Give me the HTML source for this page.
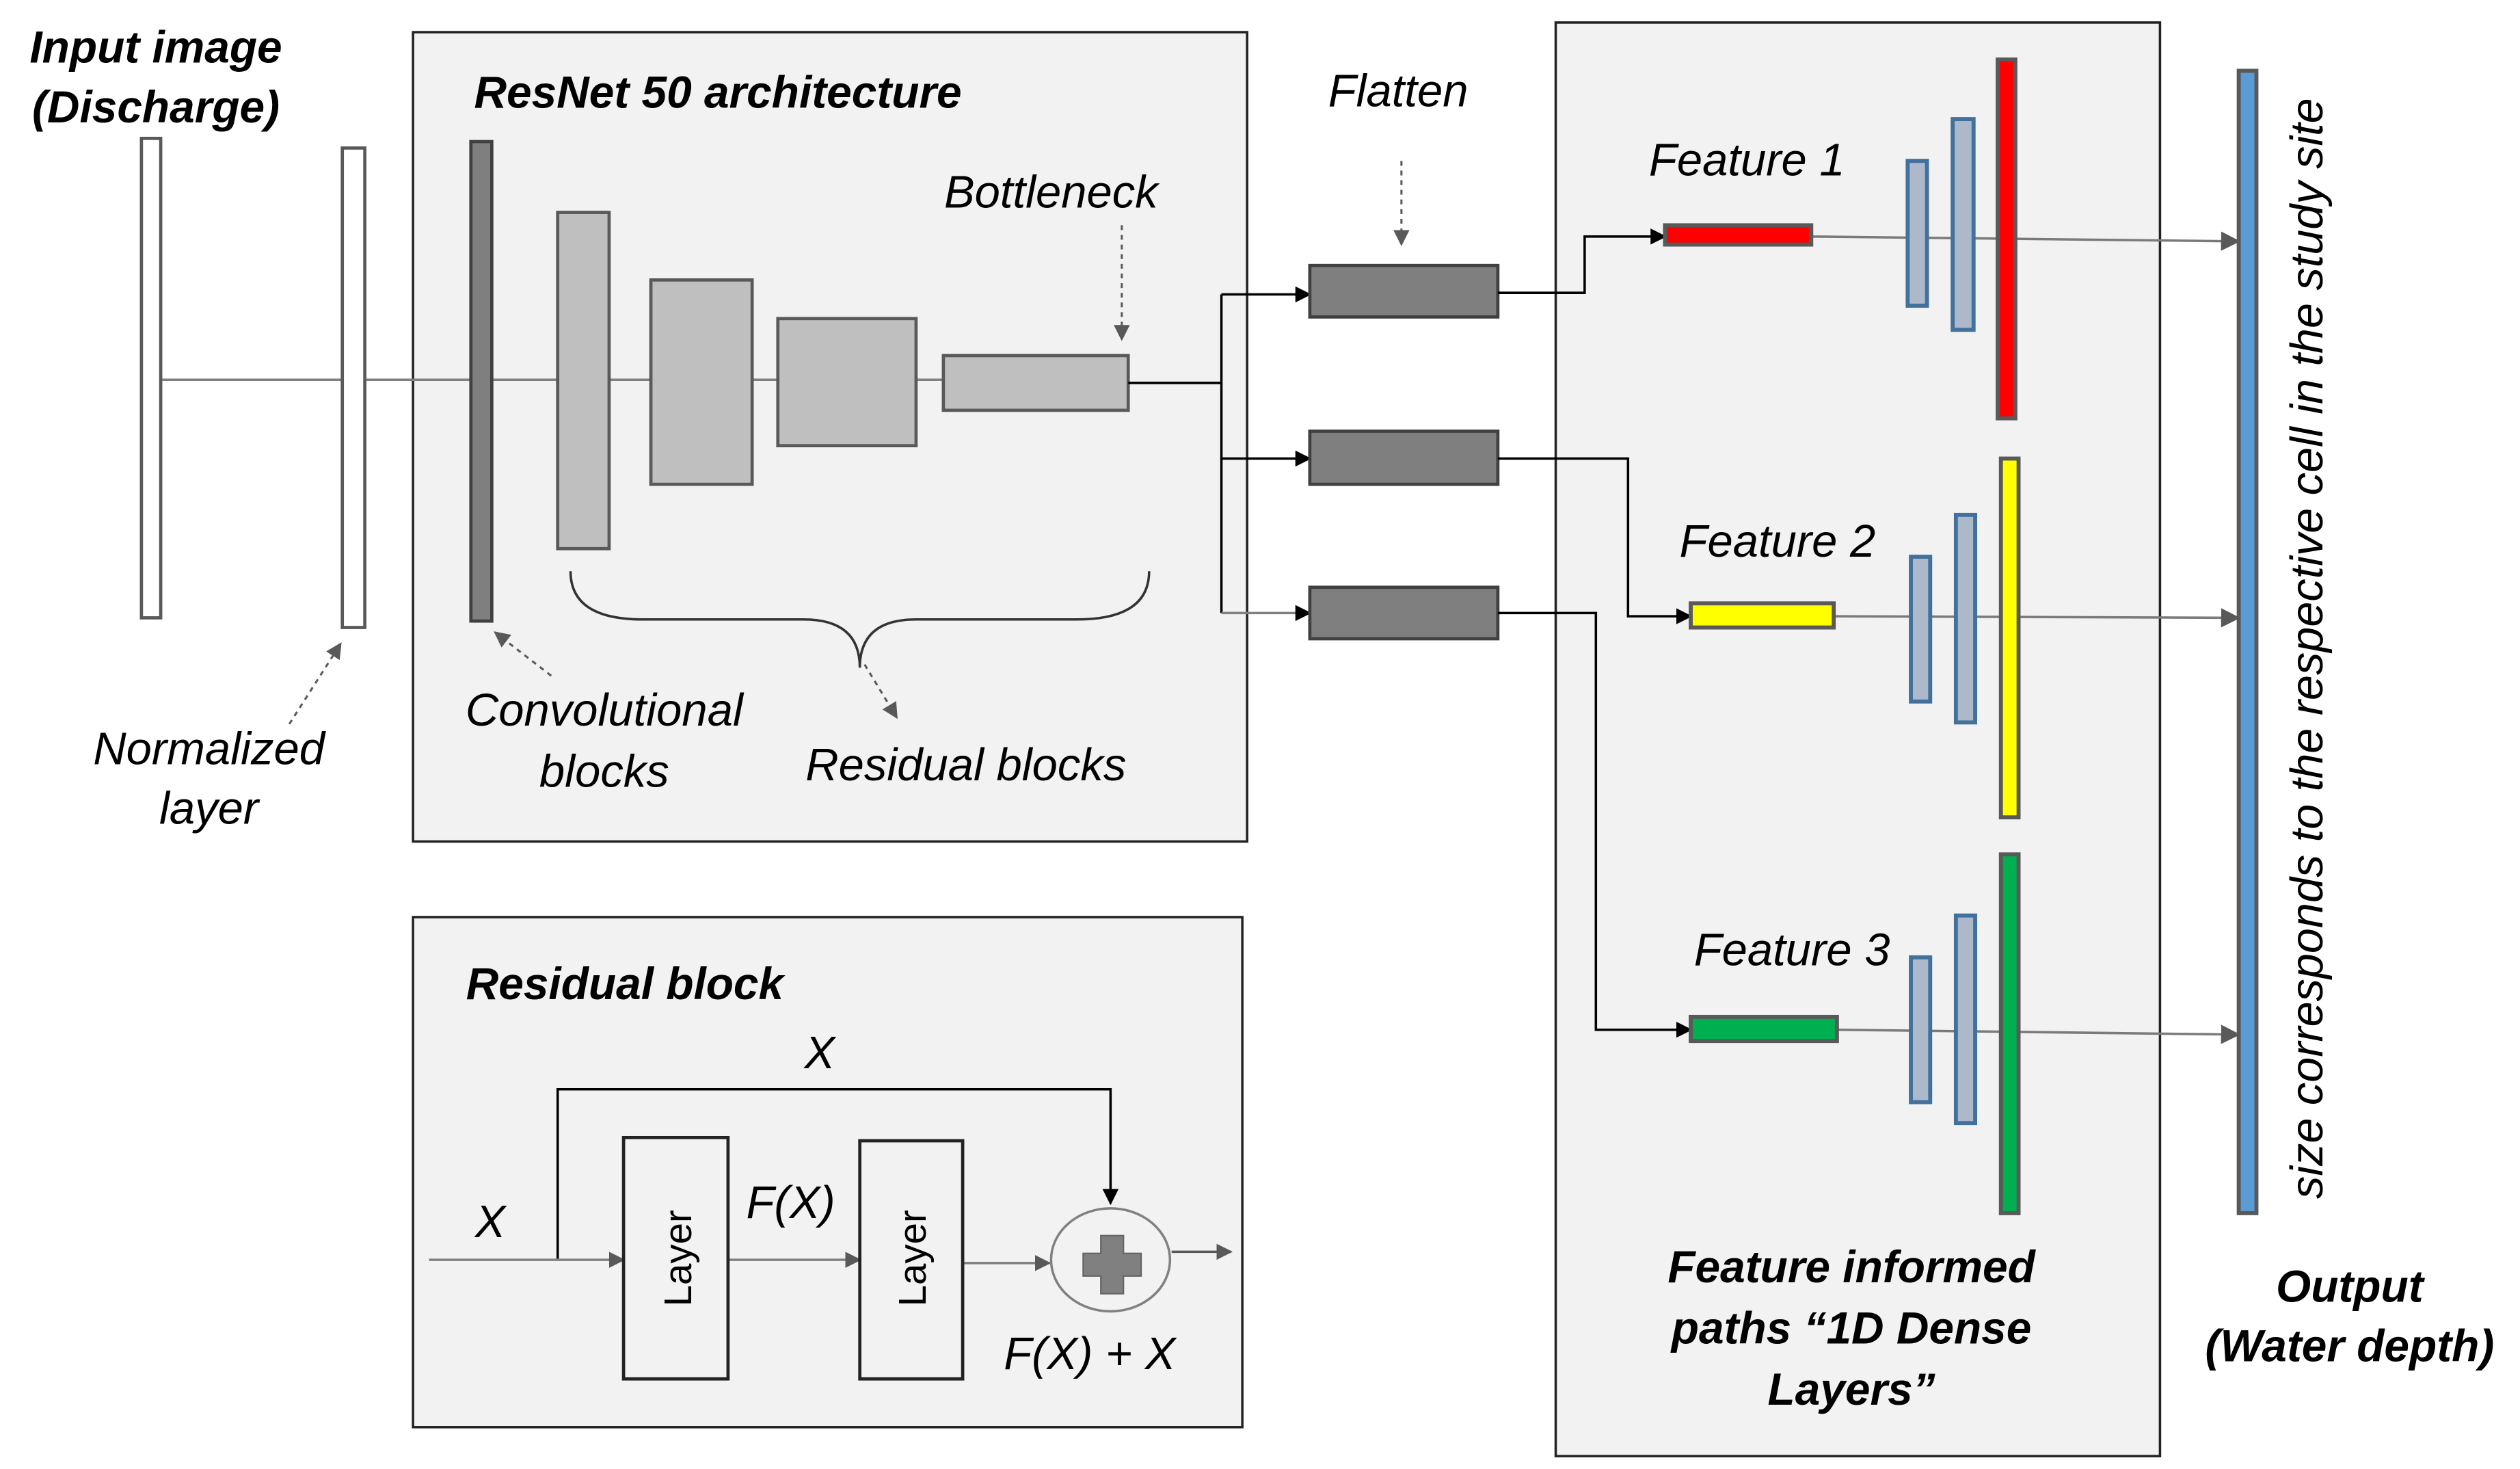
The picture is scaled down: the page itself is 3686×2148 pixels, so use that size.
<!DOCTYPE html>
<html><head><style>html,body{margin:0;padding:0;background:#fff}svg{display:block}</style></head>
<body>
<svg width="3686" height="2148" viewBox="0 0 1568 913" preserveAspectRatio="none" xmlns="http://www.w3.org/2000/svg" font-family="'Liberation Sans', sans-serif" font-style="italic" font-size="28.5" fill="#000">
<defs>
<marker id="ab" markerWidth="10" markerHeight="10" refX="9" refY="5" orient="auto" markerUnits="userSpaceOnUse"><path d="M0,0 L10,5 L0,10 z" fill="#000"/></marker>
<marker id="ag" markerWidth="12" markerHeight="12" refX="11" refY="6" orient="auto" markerUnits="userSpaceOnUse"><path d="M0,0 L12,6 L0,12 z" fill="#595959"/></marker>
<marker id="ad" markerWidth="10" markerHeight="10" refX="9" refY="5" orient="auto" markerUnits="userSpaceOnUse"><path d="M0,0 L10,5 L0,10 z" fill="#595959"/></marker>
</defs>
<rect x="257" y="20" width="519" height="503" fill="#f2f2f2" stroke="#222" stroke-width="1.5"/>
<rect x="257" y="570" width="516" height="317" fill="#f2f2f2" stroke="#222" stroke-width="1.5"/>
<rect x="968" y="14" width="376" height="891" fill="#f2f2f2" stroke="#222" stroke-width="1.5"/>

<g font-weight="bold" font-size="28">
<text x="97" y="39" text-anchor="middle">Input image</text>
<text x="97" y="76" text-anchor="middle">(Discharge)</text>
<text x="295" y="67">ResNet 50 architecture</text>
<text x="290" y="621">Residual block</text>
<text x="1152" y="797" text-anchor="middle">Feature informed</text>
<text x="1152" y="835" text-anchor="middle">paths “1D Dense</text>
<text x="1152" y="873" text-anchor="middle">Layers”</text>
<text x="1462" y="809" text-anchor="middle">Output</text>
<text x="1462" y="846" text-anchor="middle">(Water depth)</text>
</g>

<line x1="100" y1="236" x2="587" y2="236" stroke="#808080" stroke-width="1.5"/>
<rect x="88" y="86" width="12" height="298" fill="#fff" stroke="#595959" stroke-width="2"/>
<rect x="213" y="92" width="14" height="298" fill="#fff" stroke="#595959" stroke-width="2"/>
<rect x="293" y="88" width="13" height="298" fill="#7f7f7f" stroke="#404040" stroke-width="2"/>
<g fill="#bfbfbf" stroke="#595959" stroke-width="2">
<rect x="347" y="132" width="32" height="209"/>
<rect x="405" y="174" width="63" height="127"/>
<rect x="484" y="198" width="86" height="79"/>
<rect x="587" y="221" width="115" height="34"/>
</g>
<text x="130" y="475" text-anchor="middle">Normalized</text>
<text x="130" y="512" text-anchor="middle">layer</text>
<line x1="180" y1="450" x2="212" y2="400" stroke="#595959" stroke-width="1.3" stroke-dasharray="3,3" marker-end="url(#ad)"/>
<text x="654" y="129" text-anchor="middle">Bottleneck</text>
<line x1="698" y1="140" x2="698" y2="211" stroke="#595959" stroke-width="1.3" stroke-dasharray="3,3" marker-end="url(#ad)"/>
<path d="M355,355 Q355,385 400,385 L500,385 Q535,385 535,415 Q535,385 570,385 L670,385 Q715,385 715,355" fill="none" stroke="#333" stroke-width="1.5"/>
<text x="376" y="451" text-anchor="middle">Convolutional</text>
<text x="376" y="489" text-anchor="middle">blocks</text>
<line x1="343" y1="420" x2="308" y2="393" stroke="#595959" stroke-width="1.3" stroke-dasharray="3,3" marker-end="url(#ad)"/>
<text x="601" y="485" text-anchor="middle">Residual blocks</text>
<line x1="538" y1="413" x2="558" y2="446" stroke="#595959" stroke-width="1.3" stroke-dasharray="3,3" marker-end="url(#ad)"/>

<path d="M702,238 L760,238 M760,183 L760,381" stroke="#000" stroke-width="1.5" fill="none"/>
<line x1="760" y1="183" x2="815" y2="183" stroke="#000" stroke-width="1.5" marker-end="url(#ab)"/>
<line x1="760" y1="285" x2="815" y2="285" stroke="#000" stroke-width="1.5" marker-end="url(#ab)"/>
<line x1="760" y1="381" x2="815" y2="381" stroke="#808080" stroke-width="1.5" marker-end="url(#ab)"/>
<g fill="#7f7f7f" stroke="#404040" stroke-width="2">
<rect x="815" y="165" width="117" height="32"/>
<rect x="815" y="268" width="117" height="33"/>
<rect x="815" y="365" width="117" height="32"/>
</g>
<text x="870" y="66" text-anchor="middle">Flatten</text>
<line x1="872" y1="100" x2="872" y2="152" stroke="#595959" stroke-width="1.3" stroke-dasharray="3,3" marker-end="url(#ad)"/>

<path d="M932,182 L986,182 L986,147 L1036,147" stroke="#000" stroke-width="1.5" fill="none" marker-end="url(#ab)"/>
<path d="M932,285 L1013,285 L1013,383 L1052,383" stroke="#000" stroke-width="1.5" fill="none" marker-end="url(#ab)"/>
<path d="M932,381 L993,381 L993,640 L1052,640" stroke="#000" stroke-width="1.5" fill="none" marker-end="url(#ab)"/>

<line x1="1127" y1="147" x2="1393" y2="150" stroke="#7a7a7a" stroke-width="1.5" marker-end="url(#ag)"/>
<line x1="1141" y1="383" x2="1393" y2="384" stroke="#7a7a7a" stroke-width="1.5" marker-end="url(#ag)"/>
<line x1="1143" y1="640" x2="1393" y2="643" stroke="#7a7a7a" stroke-width="1.5" marker-end="url(#ag)"/>

<text x="1087" y="109" text-anchor="middle">Feature 1</text>
<text x="1106" y="346" text-anchor="middle">Feature 2</text>
<text x="1115" y="600" text-anchor="middle">Feature 3</text>

<g stroke="#595959" stroke-width="2.5">
<rect x="1036" y="140" width="91" height="12" fill="#ff0000"/>
<rect x="1052" y="375" width="89" height="15" fill="#ffff00"/>
<rect x="1052" y="632" width="91" height="15" fill="#00b050"/>
<rect x="1243" y="37" width="11" height="223" fill="#ff0000"/>
<rect x="1245" y="285" width="11" height="223" fill="#ffff00"/>
<rect x="1245" y="531" width="11" height="223" fill="#00b050"/>
<rect x="1393" y="44" width="11" height="710" fill="#5b9bd5"/>
</g>
<g stroke="#41719c" stroke-width="2.5" fill="#adb9ca">
<rect x="1187" y="100" width="12" height="90"/>
<rect x="1215" y="74" width="13" height="131"/>
<rect x="1189" y="346" width="12" height="90"/>
<rect x="1217" y="320" width="12" height="129"/>
<rect x="1189" y="595" width="12" height="90"/>
<rect x="1217" y="569" width="12" height="129"/>
</g>
<text transform="translate(1445,403) rotate(-90)" text-anchor="middle" font-size="28.3">size corresponds to the respective cell in the study site</text>

<text x="510" y="664" text-anchor="middle">X</text>
<text x="305" y="769" text-anchor="middle">X</text>
<text x="492" y="757" text-anchor="middle">F(X)</text>
<text x="678" y="851" text-anchor="middle">F(X) + X</text>
<path d="M347,783 L347,677 L691,677 L691,748" stroke="#000" stroke-width="1.5" fill="none" marker-end="url(#ab)"/>
<line x1="267" y1="783" x2="388" y2="783" stroke="#808080" stroke-width="1.5" marker-end="url(#ad)"/>
<line x1="453" y1="783" x2="535" y2="783" stroke="#808080" stroke-width="1.5" marker-end="url(#ad)"/>
<line x1="599" y1="785" x2="653" y2="785" stroke="#808080" stroke-width="1.5" marker-end="url(#ad)"/>
<line x1="729" y1="778" x2="766" y2="778" stroke="#595959" stroke-width="1.5" marker-end="url(#ad)"/>
<rect x="388" y="707" width="65" height="150" fill="#f2f2f2" stroke="#222" stroke-width="2"/>
<rect x="535" y="709" width="64" height="148" fill="#f2f2f2" stroke="#222" stroke-width="2"/>
<text transform="translate(430,782) rotate(-90)" text-anchor="middle" font-style="normal" font-size="24">Layer</text>
<text transform="translate(576,782) rotate(-90)" text-anchor="middle" font-style="normal" font-size="24">Layer</text>
<ellipse cx="691" cy="783" rx="37" ry="32" fill="#f2f2f2" stroke="#808080" stroke-width="1.5"/>
<path d="M685,768 h14 v11 h11 v14 h-11 v11 h-14 v-11 h-11 v-14 h11 z" fill="#808080" stroke="#666" stroke-width="1"/>
</svg>
</body></html>
